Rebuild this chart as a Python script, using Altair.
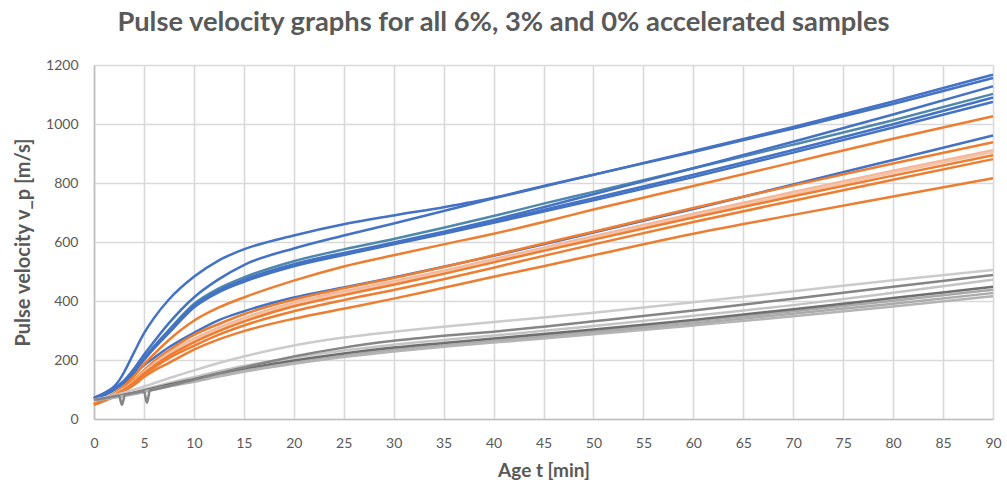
import altair as alt
import pandas as pd

# Sampling times (minutes) shared by the smooth curves
t_common = [0, 1, 2, 2.5, 3, 4, 5, 6, 7.5, 10, 12.5, 15, 20, 25, 30, 35, 40, 45, 50, 60, 70, 80, 90]

# 6% accelerated samples, pulse velocity in m/s
b1 = [72, 88, 110, 130, 158, 225, 290, 342, 405, 482, 538, 575, 622, 660, 690, 718, 750, 790, 828, 905, 985, 1068, 1156]
b2 = [70, 86, 104, 116, 130, 170, 218, 262, 325, 412, 474, 522, 578, 622, 663, 705, 748, 788, 828, 908, 990, 1076, 1167]
b_teal = [70, 85, 102, 113, 126, 163, 206, 246, 302, 390, 443, 480, 535, 575, 610, 648, 688, 730, 770, 850, 930, 1013, 1102]
b3 = [70, 85, 102, 113, 126, 162, 204, 244, 298, 385, 436, 472, 525, 563, 598, 635, 675, 718, 762, 850, 940, 1032, 1128]
b4 = [70, 84, 100, 111, 124, 159, 200, 239, 292, 378, 430, 465, 518, 556, 592, 628, 665, 703, 741, 820, 903, 988, 1075]
b5 = [70, 84, 101, 112, 125, 160, 202, 241, 295, 381, 433, 468, 521, 559, 595, 632, 670, 709, 748, 828, 912, 999, 1090]
b6 = [65, 80, 98, 110, 122, 150, 182, 207, 243, 292, 335, 365, 412, 446, 480, 516, 553, 592, 632, 712, 795, 878, 961]

# 3% accelerated samples, pulse velocity in m/s
o1 = [50, 67, 87, 99, 112, 145, 185, 220, 268, 333, 378, 412, 469, 517, 555, 592, 628, 668, 710, 790, 870, 950, 1026]
o2 = [50, 66, 84, 95, 106, 132, 165, 195, 232, 285, 322, 355, 405, 443, 478, 515, 555, 595, 635, 715, 792, 866, 938]
s1 = [52, 66, 83, 93, 103, 128, 160, 188, 224, 272, 310, 342, 395, 433, 467, 503, 542, 581, 620, 696, 770, 842, 911]
s2 = [52, 65, 82, 92, 102, 126, 157, 184, 220, 266, 304, 336, 388, 426, 461, 497, 536, 575, 614, 690, 763, 835, 905]
o3 = [50, 64, 80, 90, 100, 124, 154, 180, 214, 260, 298, 330, 382, 420, 455, 492, 531, 570, 608, 683, 755, 825, 894]
o4 = [50, 63, 78, 88, 98, 120, 150, 174, 206, 248, 286, 317, 365, 403, 437, 474, 513, 553, 592, 668, 740, 811, 881]
o5 = [48, 61, 76, 85, 94, 115, 142, 164, 190, 235, 270, 298, 340, 374, 408, 445, 482, 518, 555, 628, 692, 754, 816]

# 0% accelerated samples, pulse velocity in m/s
g_light = [65, 72, 80, 84, 89, 99, 110, 121, 138, 165, 190, 212, 249, 276, 296, 313, 329, 344, 360, 396, 433, 470, 505]
g1 = [65, 70, 76, 79, 83, 91, 100, 109, 122, 142, 162, 180, 208, 232, 252, 268, 283, 299, 315, 350, 386, 428, 472]
g3 = [65, 69, 75, 78, 82, 89, 97, 105, 117, 135, 154, 170, 198, 222, 242, 258, 273, 288, 303, 336, 372, 410, 448]
g2 = [65, 69, 74, 77, 80, 87, 95, 103, 115, 132, 150, 166, 194, 218, 238, 254, 269, 284, 299, 331, 365, 401, 438]
g4 = [65, 68, 73, 76, 79, 86, 93, 101, 112, 129, 147, 163, 190, 214, 233, 249, 264, 278, 293, 324, 357, 391, 427]
g5 = [65, 68, 72, 75, 78, 84, 91, 99, 110, 126, 144, 160, 187, 210, 229, 245, 259, 273, 287, 317, 348, 381, 416]

# Sample with two short measurement drop-outs early on
t_dip = [0, 1, 2, 2.5, 2.8, 3.1, 3.5, 4, 5, 5.3, 5.6, 6, 7.5, 10, 12.5, 15, 20, 25, 30, 35, 40, 45, 50, 60, 70, 80, 90]
g_dark = [65, 70, 77, 80, 48, 82, 85, 88, 94, 55, 97, 100, 112, 133, 155, 175, 212, 242, 265, 282, 296, 313, 331, 368, 408, 448, 488]

series = [
    ("6% A", t_common, b1), ("6% B", t_common, b2), ("6% C", t_common, b_teal),
    ("6% D", t_common, b3), ("6% E", t_common, b4), ("6% F", t_common, b5),
    ("6% G", t_common, b6),
    ("3% A", t_common, o1), ("3% B", t_common, o2), ("3% C", t_common, s1),
    ("3% D", t_common, s2), ("3% E", t_common, o3), ("3% F", t_common, o4),
    ("3% G", t_common, o5),
    ("0% A", t_common, g_light), ("0% B", t_common, g1), ("0% C", t_common, g2),
    ("0% D", t_common, g3), ("0% E", t_common, g4), ("0% F", t_common, g5),
    ("0% G", t_dip, g_dark),
]

rows = []
for name, ts, vs in series:
    for t, v in zip(ts, vs):
        rows.append({"sample": name, "t": t, "v": v})
df = pd.DataFrame(rows)

names = [s[0] for s in series]
palette = {
    "6% A": "#4472C4", "6% B": "#4472C4", "6% C": "#4E88AC", "6% D": "#4472C4",
    "6% E": "#4472C4", "6% F": "#4472C4", "6% G": "#4472C4",
    "3% A": "#ED7D31", "3% B": "#ED7D31", "3% C": "#F4B799", "3% D": "#F6C3A8",
    "3% E": "#ED7D31", "3% F": "#ED7D31", "3% G": "#ED7D31",
    "0% A": "#CBCBCB", "0% B": "#C4C4C4", "0% C": "#A9A9A9", "0% D": "#6F6F6F",
    "0% E": "#ABABAB", "0% F": "#B4B4B4", "0% G": "#858585",
}
widths = {n: 2.5 for n in names}
widths["0% D"] = 1.2

grey_text = "#595959"
font = "Lato"

chart = alt.Chart(df).mark_line(interpolate="monotone").encode(
    x=alt.X("t:Q", scale=alt.Scale(domain=[0, 90], nice=False),
            axis=alt.Axis(values=list(range(0, 91, 5)), title="Age t [min]",
                          titleFontSize=19)),
    y=alt.Y("v:Q", scale=alt.Scale(domain=[0, 1200], nice=False),
            axis=alt.Axis(values=list(range(0, 1201, 200)), format="d",
                          title="Pulse velocity v_p [m/s]", titleFontSize=20)),
    color=alt.Color("sample:N", scale=alt.Scale(domain=names, range=[palette[n] for n in names]),
                    legend=None),
    strokeWidth=alt.StrokeWidth("sample:N",
                                scale=alt.Scale(domain=names, range=[widths[n] for n in names]),
                                legend=None),
    detail="sample:N",
).properties(
    width=899,
    height=354,
    title=alt.TitleParams(
        "Pulse velocity graphs for all 6%, 3% and 0% accelerated samples",
        anchor="middle", dx=-40, offset=22, fontSize=27.3, font=font,
        fontWeight="bold", color=grey_text,
    ),
    autosize=alt.AutoSizeParams(type="none"),
    padding={"left": 94, "top": 65, "right": 14, "bottom": 67},
).configure_view(
    stroke=None
).configure_axis(
    grid=True, gridColor="#D9D9D9", gridWidth=1.6,
    domainColor="#BFBFBF", domainWidth=1.6, ticks=False,
    labelFont=font, labelFontSize=14, labelColor=grey_text,
    titleFont=font, titleFontWeight="bold", titleColor=grey_text,
).configure_axisX(
    labelPadding=17, titlePadding=11, labelFlush=False,
).configure_axisY(
    labelPadding=16, titlePadding=12, domain=True,
)

chart.save("out.html", embed_options={"renderer": "svg", "actions": False})
